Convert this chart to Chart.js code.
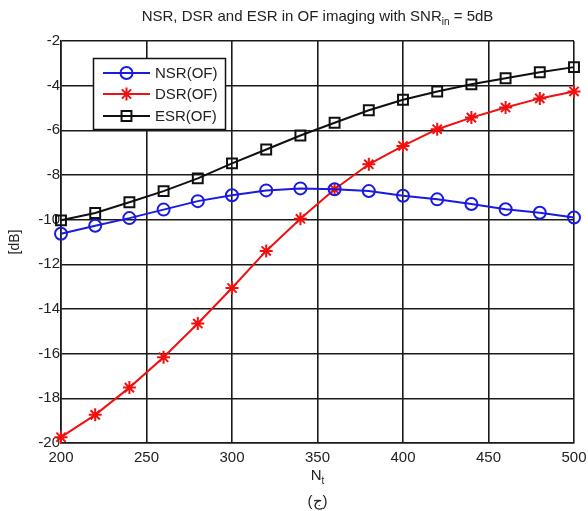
<!DOCTYPE html>
<html>
<head>
<meta charset="utf-8">
<script src="https://cdn.jsdelivr.net/npm/chart.js@4/dist/chart.umd.min.js"></script>
<style>
  html, body { margin: 0; padding: 0; background: #fff; }
  #wrap { width: 588px; height: 511px; position: relative; }
</style>
</head>
<body>
<div id="wrap"><canvas id="ofChart" width="588" height="511"></canvas></div>
<script>
// Number of transmitters on the x axis
const nt = [200, 220, 240, 260, 280, 300, 320, 340, 360, 380, 400, 420, 440, 460, 480, 500];

// Ratios in dB for each Nt
const nsr = [-10.63, -10.27, -9.93, -9.55, -9.17, -8.91, -8.69, -8.6, -8.64, -8.72, -8.93, -9.09, -9.3, -9.53, -9.69, -9.9];
const dsr = [-19.74, -18.74, -17.52, -16.16, -14.65, -13.06, -11.4, -9.96, -8.64, -7.52, -6.7, -5.95, -5.43, -4.98, -4.57, -4.26];
const esr = [-10.03, -9.7, -9.22, -8.72, -8.15, -7.48, -6.86, -6.23, -5.66, -5.1, -4.63, -4.26, -3.94, -3.67, -3.4, -3.17];

const xTicks = [200, 250, 300, 350, 400, 450, 500];
const yTicks = [-20, -18, -16, -14, -12, -10, -8, -6, -4, -2];

const FONT = '"Liberation Sans", Arial, sans-serif';

function toPoints(ys) {
    return nt.map((x, i) => ({ x: x, y: ys[i] }));
}

const series = [
    { label: 'NSR(OF)', data: nsr, color: '#1a1ae0', style: 'circle', radius: 6 },
    { label: 'DSR(OF)', data: dsr, color: '#f01010', style: 'star', radius: 6.5 },
    { label: 'ESR(OF)', data: esr, color: '#101010', style: 'rect', radius: 7 }
];

// Title, axis label with subscript, caption and the boxed legend
const annotations = {
    id: 'annotations',
    afterDraw(chart) {
        const ctx = chart.ctx;
        const area = chart.chartArea;
        const cx = (area.left + area.right) / 2;
        ctx.save();
        ctx.fillStyle = '#222';
        ctx.textBaseline = 'alphabetic';

        // title with "in" subscript
        drawSub(ctx, 'NSR, DSR and ESR in OF imaging with SNR', 'in', ' = 5dB', cx, 21, 15, 10);

        // x axis title
        drawSub(ctx, 'N', 't', '', cx, 480, 15, 10);

        // caption
        ctx.font = '15px ' + FONT;
        ctx.textAlign = 'center';
        ctx.fillText('(ج)', cx, 506);

        // legend box
        const bx = 93.5, by = 58.5, bw = 132, bh = 71;
        ctx.fillStyle = '#fff';
        ctx.fillRect(bx, by, bw, bh);
        ctx.strokeStyle = '#111';
        ctx.lineWidth = 1.5;
        ctx.strokeRect(bx, by, bw, bh);
        const rows = [73, 94, 116];
        series.forEach((s, i) => {
            const y = rows[i];
            ctx.strokeStyle = s.color;
            ctx.lineWidth = 2;
            ctx.beginPath();
            ctx.moveTo(103, y);
            ctx.lineTo(150, y);
            ctx.stroke();
            ctx.fillStyle = 'rgba(0,0,0,0)';
            Chart.helpers.drawPoint(ctx, { pointStyle: s.style, radius: s.radius, borderWidth: 2 }, 126.5, y);
            ctx.fillStyle = '#222';
            ctx.font = '15px ' + FONT;
            ctx.textAlign = 'left';
            ctx.textBaseline = 'middle';
            ctx.fillText(s.label, 155, y + 0.5);
        });
        ctx.restore();
    }
};

function drawSub(ctx, main, sub, tail, cx, y, size, subSize) {
    ctx.font = size + 'px ' + FONT;
    const w1 = ctx.measureText(main).width;
    const w3 = ctx.measureText(tail).width;
    ctx.font = subSize + 'px ' + FONT;
    const w2 = ctx.measureText(sub).width;
    let x = cx - (w1 + w2 + w3) / 2;
    ctx.textAlign = 'left';
    ctx.font = size + 'px ' + FONT;
    ctx.fillText(main, x, y);
    x += w1;
    ctx.font = subSize + 'px ' + FONT;
    ctx.fillText(sub, x, y + 4);
    x += w2;
    ctx.font = size + 'px ' + FONT;
    ctx.fillText(tail, x, y);
}

const ctx = document.getElementById('ofChart').getContext('2d');
new Chart(ctx, {
    type: 'line',
    data: {
        datasets: series.map(s => ({
            label: s.label,
            data: toPoints(s.data),
            borderColor: s.color,
            backgroundColor: 'rgba(0,0,0,0)',
            borderWidth: 2,
            pointStyle: s.style,
            pointRadius: s.radius,
            pointBorderColor: s.color,
            pointBackgroundColor: 'rgba(0,0,0,0)',
            pointBorderWidth: 2,
            tension: 0,
            clip: false
        }))
    },
    plugins: [annotations],
    options: {
        responsive: false,
        animation: false,
        events: [],
        layout: { padding: { left: 0, right: 14, top: 41, bottom: 0 } },
        plugins: {
            legend: { display: false },
            title: { display: false },
            tooltip: { enabled: false }
        },
        scales: {
            x: {
                type: 'linear',
                min: 200,
                max: 500,
                afterBuildTicks: axis => { axis.ticks = xTicks.map(v => ({ value: v })); },
                afterFit: axis => {
                    axis.height = 68;
                    axis.paddingLeft = 0;
                    axis.paddingRight = 0;
                },
                ticks: { color: '#222', font: { family: FONT, size: 15 }, padding: 6 },
                grid: { color: '#1a1a1a', lineWidth: 1.6, drawTicks: false },
                border: { color: '#1a1a1a', width: 1.6 }
            },
            y: {
                min: -20,
                max: -2,
                afterBuildTicks: axis => { axis.ticks = yTicks.map(v => ({ value: v })); },
                afterFit: axis => {
                    axis.width = 61;
                    axis.paddingTop = 0;
                    axis.paddingBottom = 0;
                },
                ticks: { color: '#222', font: { family: FONT, size: 15 }, padding: 1 },
                grid: { color: '#1a1a1a', lineWidth: 1.6, drawTicks: false },
                border: { color: '#1a1a1a', width: 1.6 },
                title: { display: true, text: '[dB]', color: '#222', font: { family: FONT, size: 14 }, padding: { top: 7, bottom: 2 } }
            }
        }
    }
});
</script>
</body>
</html>
